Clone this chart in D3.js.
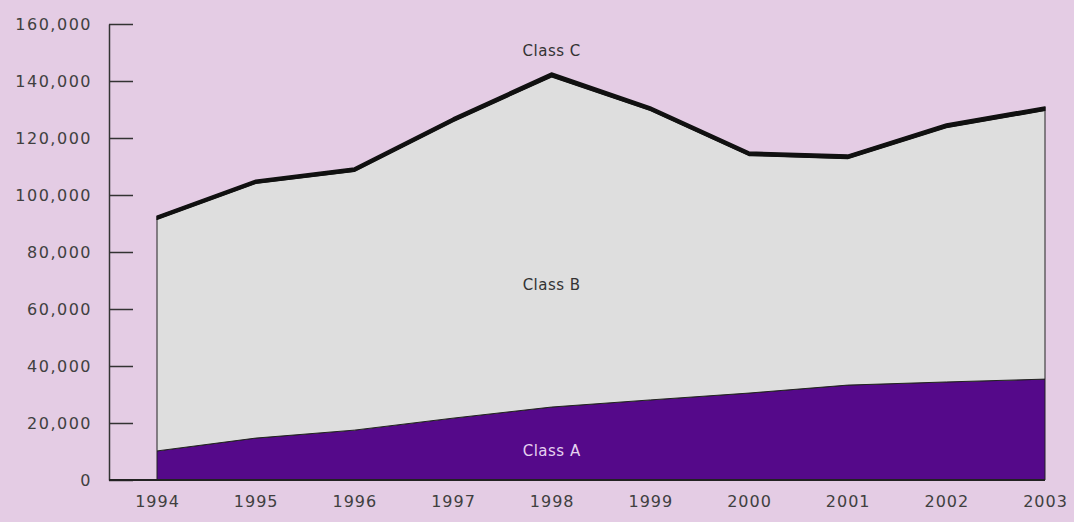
<!DOCTYPE html>
<html>
<head>
<meta charset="utf-8">
<script src="https://cdn.jsdelivr.net/npm/d3@7"></script>
<style>
	body { margin: 0; background: #e4cce4; }
	svg { display: block; }
	.tick text { font-family: "DejaVu Sans", sans-serif; font-size: 16px; fill: #404040; letter-spacing: 1.5px; }
	.label { font-family: "DejaVu Sans", sans-serif; font-size: 15px; letter-spacing: 0.5px; }
</style>
</head>
<body>
<main></main>
<script>
const years = ['1994', '1995', '1996', '1997', '1998', '1999', '2000', '2001', '2002', '2003'];
const classA = [10200, 14700, 17500, 21700, 25600, 28100, 30500, 33300, 34400, 35400];
const classB = [81300, 89400, 90800, 104100, 115900, 101600, 83400, 79500, 89300, 94300];
const classC = [1100, 1100, 1200, 1200, 1300, 1200, 1200, 1200, 1200, 1200];
const yTicks = [0, 20000, 40000, 60000, 80000, 100000, 120000, 140000, 160000];

const width = 1074;
const height = 522;

const svg = d3.select('main')
	.append('svg')
	.attr('width', width)
	.attr('height', height);

svg.append('rect')
	.attr('width', width)
	.attr('height', height)
	.attr('fill', '#e4cce4');

const xScale = d3.scalePoint()
	.domain(years)
	.range([157, 1045]);

const yScale = d3.scaleLinear()
	.domain([0, 160000])
	.range([480, 24]);

const rows = years.map((y, i) => ({ year: y, A: classA[i], B: classB[i], C: classC[i] }));
const series = d3.stack().keys(['A', 'B', 'C'])(rows);
const colors = { A: '#55098a', B: '#dedede', C: '#111111' };

const area = d3.area()
	.x((d) => xScale(d.data.year))
	.y0((d) => yScale(d[0]))
	.y1((d) => yScale(d[1]));

svg.append('g')
	.selectAll('path')
	.data(series)
	.enter()
	.append('path')
	.attr('d', area)
	.attr('fill', (s) => colors[s.key])
	.attr('stroke', (s) => s.key === 'C' ? '#111' : '#222')
	.attr('stroke-width', (s) => s.key === 'C' ? 1.5 : 1)
	.attr('stroke-linejoin', 'round');

// y axis, ticks pointing inward
const yAxis = svg.append('g')
	.attr('transform', 'translate(109, 0)')
	.call(d3.axisLeft(yScale)
		.tickValues(yTicks)
		.tickSize(-24)
		.tickSizeOuter(0)
		.tickPadding(17)
		.tickFormat(d3.format(',')));
yAxis.selectAll('path, line').attr('stroke', '#333').attr('stroke-width', 1.5);

// x axis labels, no tick marks
const xAxis = svg.append('g')
	.attr('transform', `translate(0, ${yScale(0)})`)
	.call(d3.axisBottom(xScale).tickSize(0).tickPadding(16));
xAxis.select('.domain').remove();
xAxis.selectAll('.tick text').style('letter-spacing', '1px');

svg.append('line')
	.attr('x1', 109)
	.attr('x2', xScale('2003'))
	.attr('y1', yScale(0))
	.attr('y2', yScale(0))
	.attr('stroke', '#222')
	.attr('stroke-width', 2);

const labelX = xScale('1998');

svg.append('text')
	.attr('class', 'label')
	.attr('x', labelX)
	.attr('y', 56)
	.attr('text-anchor', 'middle')
	.attr('fill', '#333')
	.text('Class C');

svg.append('text')
	.attr('class', 'label')
	.attr('x', labelX)
	.attr('y', 290)
	.attr('text-anchor', 'middle')
	.attr('fill', '#333')
	.text('Class B');

svg.append('text')
	.attr('class', 'label')
	.attr('x', labelX)
	.attr('y', 456)
	.attr('text-anchor', 'middle')
	.attr('fill', '#e6d2f0')
	.text('Class A');
</script>
</body>
</html>
